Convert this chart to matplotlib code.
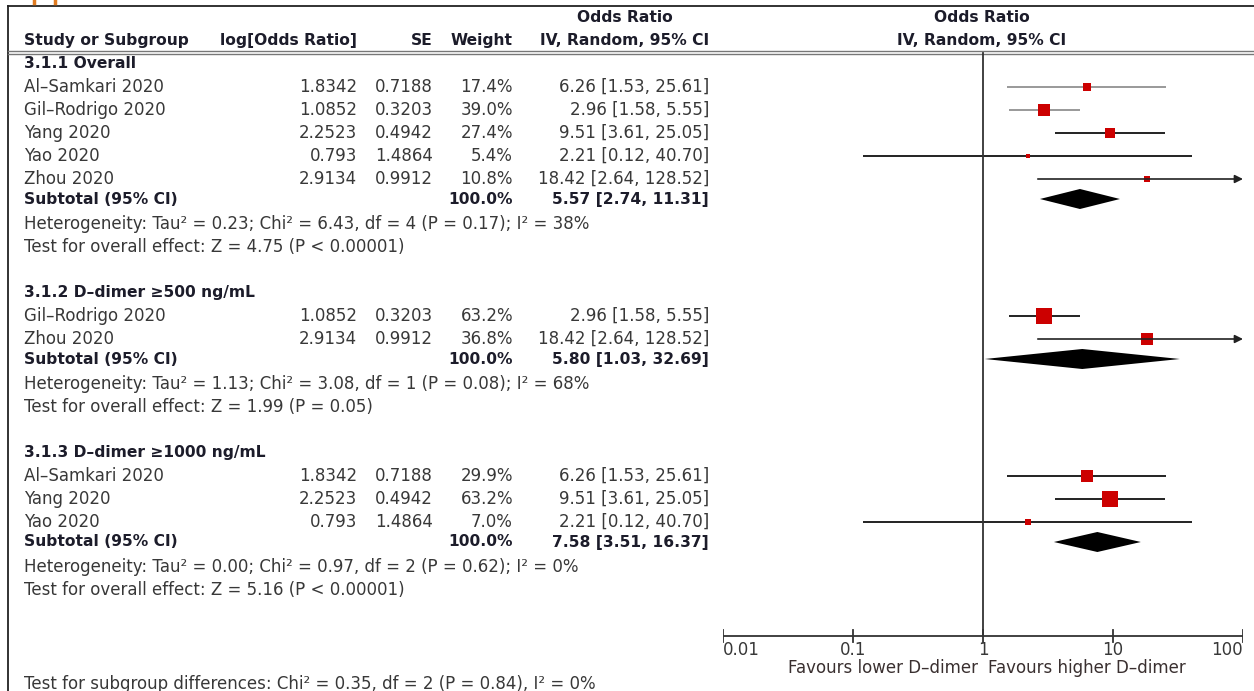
import matplotlib
matplotlib.use('Agg')
import matplotlib.pyplot as plt
import numpy as np

plt.rcParams['font.family'] = ['DejaVu Sans']

# subgroup data
groups = ['3.1.1 Overall', '3.1.2 D\u2013dimer \u2265500 ng/mL', '3.1.3 D\u2013dimer \u22651000 ng/mL']
studies = [
    ['Al\u2013Samkari 2020', 'Gil\u2013Rodrigo 2020', 'Yang 2020', 'Yao 2020', 'Zhou 2020'],
    ['Gil\u2013Rodrigo 2020', 'Zhou 2020'],
    ['Al\u2013Samkari 2020', 'Yang 2020', 'Yao 2020'],
]
log_or = [
    ['1.8342', '1.0852', '2.2523', '0.793', '2.9134'],
    ['1.0852', '2.9134'],
    ['1.8342', '2.2523', '0.793'],
]
se = [
    ['0.7188', '0.3203', '0.4942', '1.4864', '0.9912'],
    ['0.3203', '0.9912'],
    ['0.7188', '0.4942', '1.4864'],
]
weight = [
    [17.4, 39.0, 27.4, 5.4, 10.8],
    [63.2, 36.8],
    [29.9, 63.2, 7.0],
]
odds = [
    [6.26, 2.96, 9.51, 2.21, 18.42],
    [2.96, 18.42],
    [6.26, 9.51, 2.21],
]
ci_lo = [
    [1.53, 1.58, 3.61, 0.12, 2.64],
    [1.58, 2.64],
    [1.53, 3.61, 0.12],
]
ci_hi = [
    [25.61, 5.55, 25.05, 40.70, 128.52],
    [5.55, 128.52],
    [25.61, 25.05, 40.70],
]
sub_or = [5.57, 5.80, 7.58]
sub_lo = [2.74, 1.03, 3.51]
sub_hi = [11.31, 32.69, 16.37]
het_text = [
    'Heterogeneity: Tau\u00b2 = 0.23; Chi\u00b2 = 6.43, df = 4 (P = 0.17); I\u00b2 = 38%',
    'Heterogeneity: Tau\u00b2 = 1.13; Chi\u00b2 = 3.08, df = 1 (P = 0.08); I\u00b2 = 68%',
    'Heterogeneity: Tau\u00b2 = 0.00; Chi\u00b2 = 0.97, df = 2 (P = 0.62); I\u00b2 = 0%',
]
effect_text = [
    'Test for overall effect: Z = 4.75 (P < 0.00001)',
    'Test for overall effect: Z = 1.99 (P = 0.05)',
    'Test for overall effect: Z = 5.16 (P < 0.00001)',
]
subgroup_diff = 'Test for subgroup differences: Chi\u00b2 = 0.35, df = 2 (P = 0.84), I\u00b2 = 0%'
ticks = [0.01, 0.1, 1, 10, 100]
tick_labels = ['0.01', '0.1', '1', '10', '100']

W, H = 1254, 691
fig = plt.figure(figsize=(W / 100, H / 100), dpi=100)
ax = fig.add_axes([0, 0, 1, 1])
ax.set_xlim(0, W)
ax.set_ylim(H, 0)
ax.axis('off')

# forest axes, log scale, same pixel rows
x0, x1 = 723, 1243
fa = fig.add_axes([x0 / W, 0, (x1 - x0) / W, 1])
fa.set_xscale('log')
fa.set_xlim(0.01, 100)
fa.set_ylim(H, 0)
fa.axis('off')
fa.patch.set_alpha(0)

txt = '#383838'
bold = '#1c1c2a'
fsb = 11.2   # bold
fs = 12.0    # regular

# frame
ax.plot([8, W], [6, 6], color='#222222', lw=1.3)
ax.plot([8, 8], [6, H], color='#222222', lw=1.3)
ax.plot([8, W], [51, 51], color='#777777', lw=1.0)
ax.plot([8, W], [54, 54], color='#777777', lw=1.0)
# clipped orange remnant at the top-left
ax.plot([34, 34], [0, 3], color='#e07b20', lw=2.5)
ax.plot([55, 55], [0, 3], color='#e07b20', lw=2.5)

# headers
ax.text(24, 40, 'Study or Subgroup', fontsize=fsb, fontweight='bold', color=bold, va='center')
ax.text(357, 40, 'log[Odds Ratio]', fontsize=fsb, fontweight='bold', color=bold, va='center', ha='right')
ax.text(433, 40, 'SE', fontsize=fsb, fontweight='bold', color=bold, va='center', ha='right')
ax.text(513, 40, 'Weight', fontsize=fsb, fontweight='bold', color=bold, va='center', ha='right')
ax.text(625, 17, 'Odds Ratio', fontsize=fsb, fontweight='bold', color=bold, va='center', ha='center')
ax.text(709, 40, 'IV, Random, 95% CI', fontsize=fsb, fontweight='bold', color=bold, va='center', ha='right')
ax.text(982, 17, 'Odds Ratio', fontsize=fsb, fontweight='bold', color=bold, va='center', ha='center')
ax.text(982, 40, 'IV, Random, 95% CI', fontsize=fsb, fontweight='bold', color=bold, va='center', ha='center')

y = 63
for g in range(len(groups)):
    ax.text(24, y, groups[g], fontsize=fsb, fontweight='bold', color=bold, va='center')
    y += 24
    for i in range(len(studies[g])):
        ax.text(24, y, studies[g][i], fontsize=fs, color=txt, va='center')
        ax.text(357, y, log_or[g][i], fontsize=fs, color=txt, va='center', ha='right')
        ax.text(433, y, se[g][i], fontsize=fs, color=txt, va='center', ha='right')
        ax.text(513, y, f'{weight[g][i]:.1f}%', fontsize=fs, color=txt, va='center', ha='right')
        ax.text(709, y, f'{odds[g][i]:.2f} [{ci_lo[g][i]:.2f}, {ci_hi[g][i]:.2f}]',
                fontsize=fs, color=txt, va='center', ha='right')
        lc = '#999999' if (g == 0 and i < 2) else '#222222'
        if ci_hi[g][i] > 100:
            fa.annotate('', xy=(100, y), xytext=(ci_lo[g][i], y),
                        arrowprops=dict(arrowstyle='-|>', color='#222222', lw=1.2,
                                        mutation_scale=12, shrinkA=0, shrinkB=0))
        else:
            fa.plot([ci_lo[g][i], ci_hi[g][i]], [y, y], color=lc, lw=1.4, solid_capstyle='butt')
        side = 2.05 * np.sqrt(weight[g][i])
        fa.plot([odds[g][i]], [y], marker='s', ms=side * 0.72, color='#cc0000', mec='#cc0000', mew=0)
        y += 23
    y -= 3
    ax.text(24, y, 'Subtotal (95% CI)', fontsize=fsb, fontweight='bold', color=bold, va='center')
    ax.text(513, y, '100.0%', fontsize=fsb, fontweight='bold', color=bold, va='center', ha='right')
    ax.text(709, y, f'{sub_or[g]:.2f} [{sub_lo[g]:.2f}, {sub_hi[g]:.2f}]',
            fontsize=fsb, fontweight='bold', color=bold, va='center', ha='right')
    hh = 10
    fa.fill([sub_lo[g], sub_or[g], sub_hi[g], sub_or[g]], [y, y - hh, y, y + hh],
            color='black', lw=0)
    y += 24.5
    ax.text(24, y, het_text[g], fontsize=fs, color=txt, va='center')
    y += 23.5
    ax.text(24, y, effect_text[g], fontsize=fs, color=txt, va='center')
    y += 45

ax.text(24, 684, subgroup_diff, fontsize=fs, color=txt, va='center')

# null line and axis
fa.plot([1, 1], [53, 636], color='#333333', lw=1.3)
fa.plot([0.01, 100], [636, 636], color='#333333', lw=1.3)
for t, lab in zip(ticks, tick_labels):
    fa.plot([t, t], [630, 642], color='#333333', lw=1.3)
    fa.text(t, 650, lab, fontsize=fs, color=txt, va='center',
            ha='left' if t == 0.01 else ('right' if t == 100 else 'center'))
fa.text(0.92, 668, 'Favours lower D\u2013dimer', fontsize=fs, color='#3a3030', va='center', ha='right')
fa.text(1.1, 668, 'Favours higher D\u2013dimer', fontsize=fs, color='#3a3030', va='center', ha='left')

fig.savefig('out.png', dpi=100)
